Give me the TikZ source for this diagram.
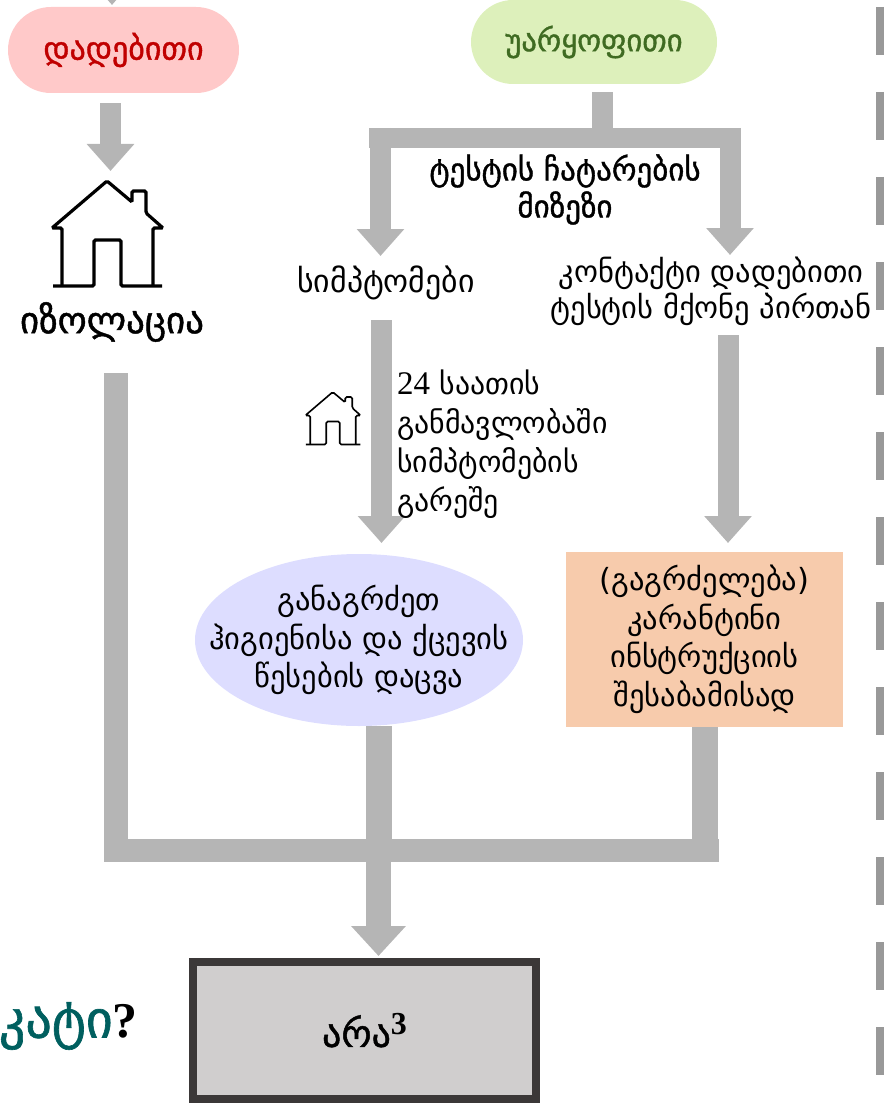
\documentclass[tikz,border=0pt]{standalone}
\usepackage{fontspec}
\setmainfont{DejaVu Serif}
\newfontfamily\georgfont{DejaVu Sans}
\newfontfamily\georgbold[FakeBold=1.2]{DejaVu Sans}
\newfontfamily\latinfont{Liberation Serif}
\usetikzlibrary{arrows.meta,shapes.geometric}
\definecolor{flowgrey}{HTML}{B5B5B5}
\definecolor{posfill}{HTML}{FFC9C9}
\definecolor{postext}{HTML}{C00000}
\definecolor{negfill}{HTML}{DDF0BB}
\definecolor{negtext}{HTML}{3F6B22}
\definecolor{keepfill}{HTML}{DDDDFF}
\definecolor{quarfill}{HTML}{F7CBAC}
\definecolor{nofill}{HTML}{D0CECE}
\definecolor{noline}{HTML}{3B3838}
\definecolor{edgegrey}{HTML}{999999}
\definecolor{askteal}{HTML}{005F5F}
\tikzset{
  flowline/.style={draw=flowgrey,line width=21pt},
  flowarrow/.style={flowline,-{Triangle[width=46pt,length=27pt]}},
  wordnode/.style={inner sep=0pt,align=center,font=\georgfont\fontsize{30.5}{38.5}\selectfont},
  boldnode/.style={wordnode,font=\georgbold\fontsize{32}{37}\selectfont},
  homeicon/.pic={
    \draw[rounded corners=1.5pt,pic actions] (-45.5,52) -- (-45.5,-6) -- (-55.5,-6) -- (-0.5,-53) -- (24.5,-32) -- (24.5,-43) -- (38.5,-43) -- (38.5,-21) -- (55.5,-6) -- (45.5,-6) -- (45.5,52);
    \draw[rounded corners=1.5pt,pic actions] (-54.5,52) -- (-13.5,52) -- (-13.5,6) -- (13.5,6) -- (13.5,52) -- (54.5,52);
  }
}
\begin{document}
\begin{tikzpicture}[x=1pt,y=-1pt]
  \useasboundingbox (0,0) rectangle (883,1110);

  % result boxes
  \node[boldnode,fill=posfill,text=postext,rounded corners=43pt,minimum width=231pt,minimum height=86pt] (pos) at (123.5,50) {დადებითი};
  \node[boldnode,font=\georgbold\fontsize{30.6}{37}\selectfont,fill=negfill,text=negtext,rounded corners=42pt,minimum width=246pt,minimum height=84pt] (neg) at (594,42) {უარყოფითი};

  % left branch
  \coordinate (topin) at (112,5);
  \draw[flowarrow] (112,-40) -- (topin);
  \pic[line width=3.2pt] at (107.5,234) {homeicon};
  \node[boldnode,font=\georgbold\fontsize{37}{37}\selectfont] (iso) at (112,322) {იზოლაცია};
  \coordinate (homein) at (110.5,171);
  \draw[flowarrow,shorten <=10pt] (pos.south -| homein) -- (homein);

  % test reason
  \coordinate (splitm) at (602.5,138);
  \coordinate (splitl) at (380.5,138);
  \coordinate (splitr) at (730,138);
  \node[boldnode,font=\georgbold\fontsize{31}{37}\selectfont] (why) at (565,189.5) {ტესტის ჩატარების\\მიზეზი};
  \node[wordnode,font=\georgfont\fontsize{31.8}{38.5}\selectfont] (symp) at (386,283) {სიმპტომები};
  \node[wordnode,font=\georgfont\fontsize{30.5}{36}\selectfont] (contact) at (711,291) {კონტაქტი დადებითი\\ტესტის მქონე პირთან};
  \draw[flowline,line width=20pt] (369,138) -- (741,138);
  \draw[flowline,shorten <=8pt] (neg.south -| splitm) -- (splitm);
  \draw[flowarrow,shorten <=-10pt] (splitl) -- (380.5,256);
  \draw[flowarrow,shorten <=-10pt] (splitr) -- (730,255);

  % middle branch
  \coordinate (keepin) at (381.5,543);
  \coordinate (quarin) at (728,543);
  \draw[flowarrow] (381.5,320) -- (keepin);
  \draw[flowarrow] (728,335) -- (quarin);
  \pic[scale=0.5,line width=1.6pt] at (333,418.5) {homeicon};
  \node[wordnode,font=\georgfont\fontsize{29.8}{39}\selectfont,align=left,anchor=west] (wait) at (397,444) {{\latinfont\fontsize{33}{39}\selectfont 24} საათის\\განმავლობაში\\სიმპტომების\\გარეშე};

  \node[ellipse,fill=keepfill,inner sep=0pt,minimum width=328pt,minimum height=172pt] (keep) at (359,640) {};
  \node[wordnode] (keeptext) at (keep) {განაგრძეთ\\ჰიგიენისა და ქცევის\\წესების დაცვა};
  \node[wordnode,fill=quarfill,minimum width=277pt,minimum height=175pt] (quar) at (704.5,639.5) {(გაგრძელება)\\კარანტინი\\ინსტრუქციის\\შესაბამისად};

  % bottom
  \node[boldnode,font=\georgbold\fontsize{38}{38}\selectfont,draw=noline,fill=nofill,line width=8pt,minimum width=343pt,minimum height=137pt] (no) at (364.5,1030.5) {არა\raisebox{12pt}{\latinfont\bfseries\fontsize{32}{32}\selectfont 3}};
  \node[anchor=east,inner sep=0pt,text=askteal,font=\georgbold\fontsize{52}{54}\selectfont] (ask) at (138,1026) {კატი{\latinfont\bfseries\color{black}\fontsize{50}{54}\selectfont?}};

  \coordinate (joinl) at (116,851);
  \coordinate (joinm) at (379,851);
  \coordinate (joinr) at (705,851);
  \draw[flowline,line width=24pt] (116,373) -- (joinl);
  \draw[flowline,line width=26pt] (keep.south -| joinm) -- (joinm);
  \draw[flowline,line width=26pt] (quar.south -| joinr) -- (joinr);
  \draw[flowline,line width=23pt] (104,850.5) -- (719,850.5);
  \draw[flowarrow,line width=25pt,-{Triangle[width=53pt,length=30pt]}] (378.5,862) -- ([xshift=14pt,yshift=2pt]no.north);

  % dashed edge
  \coordinate (edgetop) at (880,7);
  \coordinate (edgeend) at (880,1078);
  \draw[edgegrey,line width=7.5pt,dash pattern=on 48pt off 37pt] (edgetop) -- (edgeend);
\end{tikzpicture}
\end{document}
